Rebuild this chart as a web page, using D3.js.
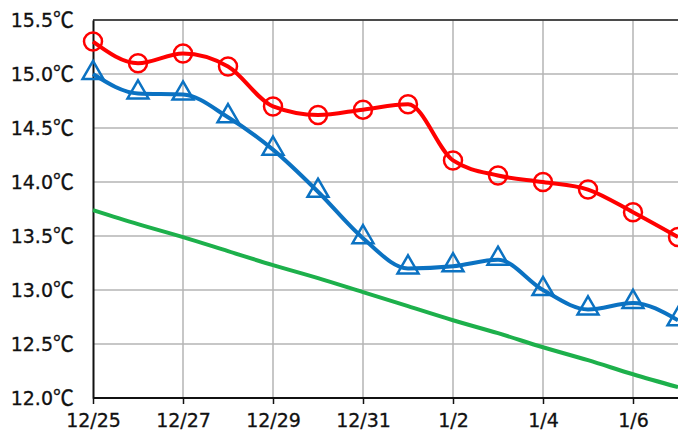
<!DOCTYPE html>
<html>
<head>
<meta charset="utf-8">
<script src="https://cdn.jsdelivr.net/npm/d3@7.9.0/dist/d3.min.js"></script>
<style>
  body { margin: 0; background: #fff; }
  svg { display: block; }
  .tick text { font-family: "DejaVu Sans", sans-serif; font-size: 19px; fill: #111; stroke: #111; stroke-width: 0.3px; }
  .tick text .unit { font-family: "Noto Sans CJK JP", sans-serif; font-size: 21px; }
</style>
</head>
<body>
<svg id="chart" width="678" height="432"></svg>
<script>
const days = ["12/25", "12/26", "12/27", "12/28", "12/29", "12/30", "12/31",
  "1/1", "1/2", "1/3", "1/4", "1/5", "1/6", "1/7"];
const highTemps = [15.30, 15.10, 15.19, 15.07, 14.70, 14.62, 14.67, 14.72, 14.20, 14.06, 14.00, 13.93, 13.72, 13.49];
const lowTemps = [15.00, 14.82, 14.81, 14.60, 14.30, 13.91, 13.48, 13.20, 13.22, 13.28, 13.00, 12.82, 12.88, 12.72];
const normalTemps = [13.74, 13.61, 13.49, 13.36, 13.23, 13.11, 12.98, 12.85, 12.72, 12.60, 12.47, 12.35, 12.22, 12.10];
const yTicks = [12.0, 12.5, 13.0, 13.5, 14.0, 14.5, 15.0, 15.5];
const xTickLabels = ["12/25", "12/27", "12/29", "12/31", "1/2", "1/4", "1/6"];

const svg = d3.select("#chart");
const margin = { left: 93, top: 20, bottom: 34 };
const height = 432 - margin.top - margin.bottom;
const plotRight = 720; // plot runs past the window edge, as in the reference

const x = d3.scalePoint().domain(days).range([margin.left, margin.left + 45 * 13]);
const y = d3.scaleLinear().domain([12, 15.5]).range([margin.top + height, margin.top]);

// grid
const grid = svg.append("g").attr("stroke", "#b4b4b4").attr("stroke-width", 1.5);
grid.selectAll("line.h")
  .data(yTicks.slice(1))
  .join("line")
  .attr("x1", margin.left).attr("x2", plotRight)
  .attr("y1", (d) => y(d)).attr("y2", (d) => y(d));
grid.selectAll("line.v")
  .data(xTickLabels.slice(1))
  .join("line")
  .attr("y1", y(12)).attr("y2", y(15.5))
  .attr("x1", (d) => x(d)).attr("x2", (d) => x(d));

// top border
svg.append("line")
  .attr("x1", margin.left).attr("x2", plotRight)
  .attr("y1", y(15.5)).attr("y2", y(15.5))
  .attr("stroke", "#222").attr("stroke-width", 1.5);

// axes
const yAxis = svg.append("g")
  .attr("transform", `translate(${margin.left},0)`)
  .call(d3.axisLeft(y).tickValues(yTicks).tickSize(0).tickPadding(19)
    .tickFormat((d) => d3.format(".1f")(d)));
yAxis.select(".domain").attr("stroke", "#111").attr("stroke-width", 2);
yAxis.selectAll(".tick text").append("tspan").attr("class", "unit").text("℃");

const xAxis = svg.append("g")
  .attr("transform", `translate(0,${y(12)})`)
  .call(d3.axisBottom(x).tickValues(xTickLabels).tickSize(6).tickPadding(10));
xAxis.select(".domain").attr("stroke", "#111").attr("stroke-width", 2)
  .attr("d", `M${margin.left},0H${plotRight}`);
xAxis.selectAll(".tick line").attr("stroke", "#111").attr("stroke-width", 1.5);

const line = d3.line()
  .x((d, i) => x(days[i]))
  .y((d) => y(d))
  .curve(d3.curveMonotoneX);

svg.append("path").datum(normalTemps)
  .attr("d", line).attr("fill", "none")
  .attr("stroke", "#1db04b").attr("stroke-width", 4);

svg.append("path").datum(lowTemps)
  .attr("d", line).attr("fill", "none")
  .attr("stroke", "#0b72c2").attr("stroke-width", 4);

svg.append("path").datum(highTemps)
  .attr("d", line).attr("fill", "none")
  .attr("stroke", "#ff0000").attr("stroke-width", 4);

const tri = d3.symbol().type(d3.symbolTriangle).size(190);
svg.append("g").selectAll("path")
  .data(lowTemps)
  .join("path")
  .attr("d", tri)
  .attr("transform", (d, i) => `translate(${x(days[i])},${y(d) - 1})`)
  .attr("fill", "none").attr("stroke", "#0b72c2").attr("stroke-width", 2.5);

svg.append("g").selectAll("circle")
  .data(highTemps)
  .join("circle")
  .attr("cx", (d, i) => x(days[i]))
  .attr("cy", (d) => y(d))
  .attr("r", 9)
  .attr("fill", "none").attr("stroke", "#ff0000").attr("stroke-width", 2.5);
</script>
</body>
</html>
